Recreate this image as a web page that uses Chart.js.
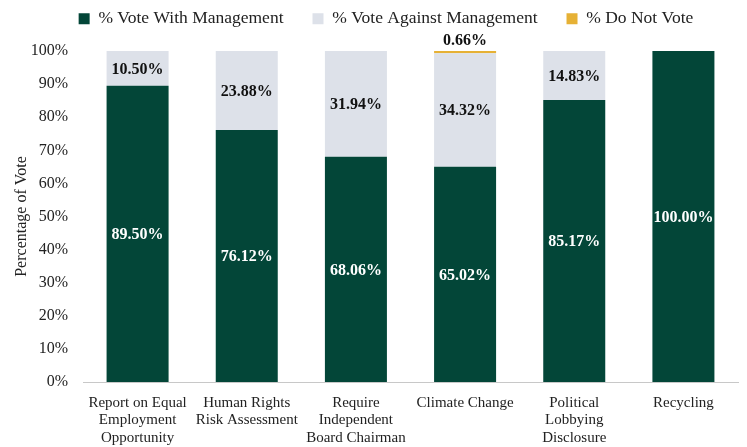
<!DOCTYPE html>
<html>
<head>
<meta charset="utf-8">
<script src="https://cdn.jsdelivr.net/npm/chart.js@4/dist/chart.umd.min.js"></script>
<style>
  html, body { margin: 0; padding: 0; background: #fff; }
  #wrap { width: 747px; height: 447px; }
</style>
</head>
<body>
<div id="wrap"><canvas id="chart"></canvas></div>
<script>
const categories = [
  ['Report on Equal', 'Employment', 'Opportunity'],
  ['Human Rights', 'Risk Assessment'],
  ['Require', 'Independent', 'Board Chairman'],
  'Climate Change',
  ['Political', 'Lobbying', 'Disclosure'],
  'Recycling'
];
const withMgmt = [89.50, 76.12, 68.06, 65.02, 85.17, 100.00];
const againstMgmt = [10.50, 23.88, 31.94, 34.32, 14.83, 0];
const doNotVote = [0, 0, 0, 0.66, 0, 0];
const yTicks = [0, 10, 20, 30, 40, 50, 60, 70, 80, 90, 100];

const FONT = '"Liberation Serif", "DejaVu Serif", serif';

// value labels: centred in the two big segments, above the thin one
const valueLabels = {
  id: 'valueLabels',
  afterDatasetsDraw(chart) {
    const ctx = chart.ctx;
    ctx.save();
    ctx.font = 'bold 16px ' + FONT;
    ctx.textAlign = 'center';
    ctx.textBaseline = 'middle';
    chart.data.datasets.forEach((ds, i) => {
      const meta = chart.getDatasetMeta(i);
      meta.data.forEach((bar, j) => {
        const v = ds.data[j];
        if (!v) return;
        const txt = v.toFixed(2) + '%';
        if (i === 2) {
          ctx.fillStyle = '#111';
          ctx.fillText(txt, bar.x, bar.y - 10);
        } else {
          ctx.fillStyle = i === 0 ? '#ffffff' : '#111';
          ctx.fillText(txt, bar.x, (bar.y + bar.base) / 2 + 1);
        }
      });
    });
    ctx.restore();
  }
};

// keep wide horizontal gaps in the legend without the matching vertical gap
const legendTweak = {
  id: 'legendTweak',
  afterInit(chart) {
    const leg = chart.legend;
    const fit = leg.fit;
    leg.fit = function () { fit.call(this); this.height = 51; };
    const draw = leg.draw;
    leg.draw = function () {
      this.ctx.save();
      this.ctx.translate(11, -19);
      draw.call(this);
      this.ctx.restore();
    };
  }
};

new Chart(document.getElementById('chart'), {
  type: 'bar',
  data: {
    labels: categories,
    datasets: [
      { label: '% Vote With Management', data: withMgmt, backgroundColor: '#034638' },
      { label: '% Vote Against Management', data: againstMgmt, backgroundColor: '#dde1e9' },
      { label: '% Do Not Vote', data: doNotVote, backgroundColor: '#e6b135' }
    ]
  },
  options: {
    responsive: true,
    maintainAspectRatio: false,
    animation: false,
    datasets: { bar: { categoryPercentage: 1, barPercentage: 0.568 } },
    layout: { padding: { left: 12, right: 9, top: 0, bottom: 0 } },
    plugins: {
      legend: {
        position: 'top',
        labels: {
          font: { family: FONT, size: 17.5 },
          color: '#222',
          boxWidth: 11,
          boxHeight: 11,
          padding: 29
        }
      },
      tooltip: { enabled: false }
    },
    scales: {
      x: {
        stacked: true,
        afterFit(axis) { axis.height = 65; },
        grid: { display: false, drawTicks: false },
        border: { color: '#c8c8c8' },
        ticks: {
          font: { family: FONT, size: 15, lineHeight: 1.17 },
          color: '#222',
          padding: 12,
          maxRotation: 0,
          autoSkip: false
        }
      },
      y: {
        stacked: true,
        min: 0,
        max: 100,
        afterBuildTicks(axis) { axis.ticks = yTicks.map(v => ({ value: v })); },
        afterFit(axis) { axis.width = 71; },
        grid: { display: false, drawTicks: false },
        border: { display: false },
        ticks: {
          font: { family: FONT, size: 16 },
          color: '#222',
          padding: 15,
          callback: v => v + '%'
        },
        title: {
          display: true,
          text: 'Percentage of Vote',
          font: { family: FONT, size: 16 },
          color: '#222',
          padding: 0
        }
      }
    }
  },
  plugins: [valueLabels, legendTweak]
});
</script>
</body>
</html>
